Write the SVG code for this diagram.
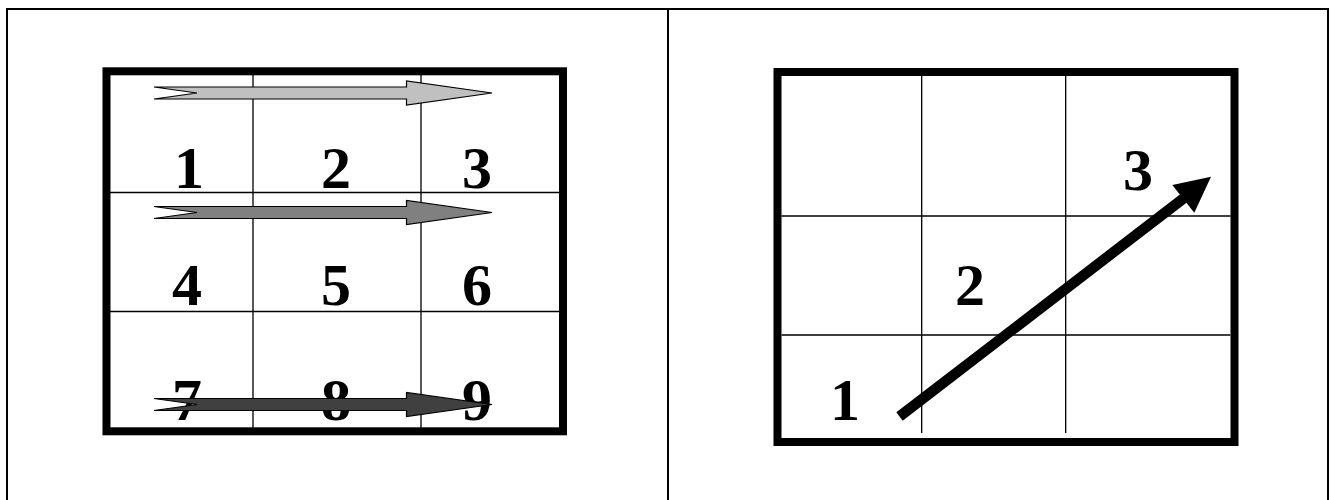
<svg xmlns="http://www.w3.org/2000/svg" width="1331" height="500" viewBox="0 0 1331 500">
<style>
.frame{fill:none;stroke:#000;stroke-width:2}
.box{fill:#fff;stroke:#000;stroke-width:8}
.grid{stroke:#000;stroke-width:1.3;fill:none}
.num{font-family:"Liberation Serif","Times New Roman",serif;font-weight:bold;font-size:60px;text-anchor:middle;fill:#000}
.blk{stroke:#000;stroke-width:1.2;stroke-linejoin:miter}
</style>
<rect width="1331" height="500" fill="#fff"/>
<g id="frame">
<path class="frame" d="M7,510 V9 H1328 V510 M668,9 V510"/>
</g>
<g id="left-grid">
<rect class="box" x="106.5" y="71.3" width="456.5" height="360"/>
<path class="grid" d="M253,75 V428 M421,75 V428 M110,192.5 H559 M110,311.5 H559"/>
</g>
<g id="left-labels">
<text class="num" x="189" y="188">1</text>
<text class="num" x="336" y="188">2</text>
<text class="num" x="477" y="188">3</text>
<text class="num" x="187" y="305">4</text>
<text class="num" x="336" y="305">5</text>
<text class="num" x="477" y="305">6</text>
<text class="num" x="187" y="420">7</text>
<text class="num" x="336" y="420">8</text>
<text class="num" x="477" y="420">9</text>
</g>
<g id="right-grid">
<rect class="box" x="777.5" y="72" width="457" height="370"/>
<path class="grid" d="M921.7,76 V433 M1065.7,76 V433 M781.5,216 H1230.5 M781.5,335 H1230.5"/>
</g>
<g id="right-labels">
<text class="num" x="1138" y="190">3</text>
<text class="num" x="970" y="305">2</text>
<text class="num" x="845" y="420">1</text>
</g>
<g id="connectors">
<path id="arrow-row1" class="blk" fill="#c0c0c0" d="M154,87 H406.5 V81 L492,93 L406.5,105 V99 H154 L197,93 Z"/>
<path id="arrow-row2" class="blk" fill="#808080" d="M154,206.5 H406.5 V200.5 L492,212.5 L406.5,224.5 V218.5 H154 L197,212.5 Z"/>
<path id="arrow-row3" class="blk" fill="#404040" d="M154,398.5 H406.5 V392.5 L492,404.5 L406.5,416.5 V410.5 H154 L197,404.5 Z"/>
<g id="arrow-diag">
<line x1="899.5" y1="416.5" x2="1186" y2="196.5" stroke="#000" stroke-width="10.5"/>
<polygon points="1211,176.7 1172.3,185 1194.3,212.7" fill="#000"/>
</g>
</g>
</svg>
